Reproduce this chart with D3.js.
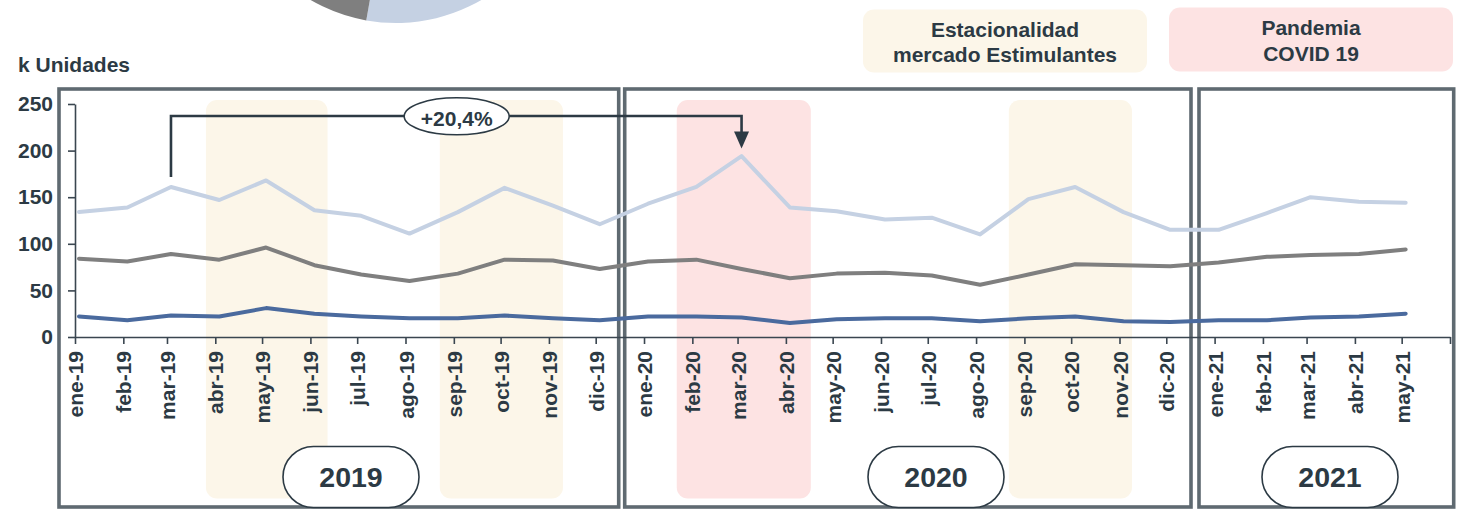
<!DOCTYPE html>
<html><head><meta charset="utf-8">
<script src="https://cdn.jsdelivr.net/npm/d3@7"></script>
<style>
body{margin:0;background:#fff}
svg{display:block;font-family:"Liberation Sans",Arial,sans-serif;font-weight:bold}
</style>
</head><body>
<svg id="c" width="1460" height="512"></svg>
<script>
// ---- data ----
const months = ["ene-19","feb-19","mar-19","abr-19","may-19","jun-19","jul-19","ago-19","sep-19","oct-19","nov-19","dic-19",
  "ene-20","feb-20","mar-20","abr-20","may-20","jun-20","jul-20","ago-20","sep-20","oct-20","nov-20","dic-20",
  "ene-21","feb-21","mar-21","abr-21","may-21"];
const seriesLight = [134,139,161,147,168,136,130,111,134,160,141,121,143,161,194,139,135,126,128,110,148,161,134,115,115,133,150,145,144];
const seriesGrey  = [84,81,89,83,96,77,67,60,68,83,82,73,81,83,73,63,68,69,66,56,67,78,77,76,80,86,88,89,94];
const seriesDark  = [22,18,23,22,31,25,22,20,20,23,20,18,22,22,21,15,19,20,20,17,20,22,17,16,18,18,21,22,25];
const yTicks = [0,50,100,150,200,250];
const yearLabels = ["2019","2020","2021"];
const legendSeason = ["Estacionalidad","mercado Estimulantes"];
const legendCovid = ["Pandemia","COVID 19"];
const annotationText = "+20,4%";
const yTitle = "k Unidades";
const pieShares = [52.8, 34.5, 12.7];
const seasonBands = [["2019-03-26","2019-06-12"],["2019-08-23","2019-11-10"],["2020-08-22","2020-11-09"]];
const covidBands = [["2020-01-22","2020-04-17"]];

// ---- style ----
const cLight = "#c5d1e3", cGrey = "#7f7f7f", cDark = "#4a6a9e";
const cText = "#2c3a44", cBox = "#5f6a71", cAxis = "#3a4650";
const cBeige = "#fcf6e9", cPink = "#fde3e3";

const svg = d3.select("#c");
const start = new Date(Date.UTC(2019,0,1));
const dates = months.map((m,i)=>d3.utcMonth.offset(start,i));
const tickDates = d3.range(months.length+1).map(i=>d3.utcMonth.offset(start,i));
const x = d3.scaleUtc().domain([start, tickDates[tickDates.length-1]]).range([75,1450]);
const y = d3.scaleLinear().domain([0,250]).range([337,104]);
const pOff = 4;

// pie fragment
const pie = d3.pie().sort(null).value(d=>d);
const arc = d3.arc().innerRadius(0).outerRadius(170);
svg.append("g").attr("transform","translate(396,-147)")
  .selectAll("path").data(pie(pieShares)).join("path")
  .attr("d",arc).attr("fill",(d,i)=>[cLight,cGrey,cDark][i]);

// legend boxes
const legends = [{x:863,y:9.5,w:284,h:63,fill:cBeige,lines:legendSeason,base:[36.7,62.3]},
                 {x:1169,y:7.5,w:284,h:64,fill:cPink,lines:legendCovid,base:[35,61]}];
legends.forEach(l=>{
  svg.append("rect").attr("x",l.x).attr("y",l.y).attr("width",l.w).attr("height",l.h).attr("rx",11).attr("fill",l.fill);
  l.lines.forEach((t,i)=>svg.append("text").attr("x",l.x+l.w/2).attr("y",l.base[i])
    .attr("text-anchor","middle").attr("font-size",21).attr("fill",cText).text(t));
});

// shading bands
const pd = d3.utcParse("%Y-%m-%d");
function band(b,fill){
  const x0 = x(pd(b[0])), x1 = x(pd(b[1]));
  svg.append("rect").attr("x",x0).attr("y",100).attr("width",x1-x0).attr("height",398.5).attr("rx",11).attr("fill",fill);
}
seasonBands.forEach(b=>band(b,cBeige));
covidBands.forEach(b=>band(b,cPink));

// y title
svg.append("text").attr("x",18).attr("y",71.7).attr("font-size",21).attr("fill",cText).text(yTitle);

// year boxes
const boxes = [[59,618.7],[624.7,1191],[1199,1453.7]];
boxes.forEach(b=>svg.append("rect").attr("x",b[0]).attr("y",89).attr("width",b[1]-b[0]).attr("height",418)
  .attr("fill","none").attr("stroke",cBox).attr("stroke-width",3.6));

// axes
const gx = svg.append("g").attr("transform",`translate(0,${y(0)})`)
  .call(d3.axisBottom(x).tickValues(tickDates).tickSize(7).tickSizeOuter(0).tickFormat((d,i)=>months[i]||""));
gx.selectAll("text").attr("transform","rotate(-90)").attr("text-anchor","end")
  .attr("x",-14).attr("y",0).attr("dy","0.36em");
const gy = svg.append("g").attr("transform",`translate(${x(start)},0)`)
  .call(d3.axisLeft(y).tickValues(yTicks).tickSize(7).tickSizeOuter(0).tickPadding(15));
[gx,gy].forEach(g=>{
  g.selectAll("path,line").attr("stroke",cAxis).attr("stroke-width",1.6);
  g.selectAll("text").attr("font-size",21).attr("fill",cText)
    .attr("font-family","'Liberation Sans',Arial,sans-serif").attr("font-weight","bold");
});

// lines
const line = d3.line().x((d,i)=>x(dates[i])+pOff).y(d=>y(d));
[[seriesLight,cLight],[seriesGrey,cGrey],[seriesDark,cDark]].forEach(([s,c])=>{
  svg.append("path").attr("d",line(s)).attr("fill","none").attr("stroke",c)
    .attr("stroke-width",4).attr("stroke-linejoin","round").attr("stroke-linecap","round");
});

// annotation
const ax0 = x(dates[2])+pOff, ax1 = x(dates[14])+pOff, ay = 116;
svg.append("path").attr("d",`M${ax0},177V${ay}H${ax1}V133`).attr("fill","none")
  .attr("stroke",cText).attr("stroke-width",2.6);
svg.append("path").attr("d",`M${ax1-7.5},131.5L${ax1+7.5},131.5L${ax1},148.5Z`).attr("fill",cText);
svg.append("ellipse").attr("cx",456.7).attr("cy",116.3).attr("rx",52.5).attr("ry",18.5)
  .attr("fill","#fff").attr("stroke",cText).attr("stroke-width",1.6);
svg.append("text").attr("x",456.7).attr("y",126).attr("text-anchor","middle").attr("font-size",21)
  .attr("fill",cText).text(annotationText);

// year pills
const pillX = [351,936,1330];
yearLabels.forEach((t,i)=>{
  svg.append("rect").attr("x",pillX[i]-68).attr("y",446.5).attr("width",136).attr("height",61).attr("rx",30.5)
    .attr("fill","#fff").attr("stroke",cText).attr("stroke-width",1.6);
  svg.append("text").attr("x",pillX[i]).attr("y",487).attr("text-anchor","middle").attr("font-size",28.5)
    .attr("fill",cText).text(t);
});
</script>
</body></html>
